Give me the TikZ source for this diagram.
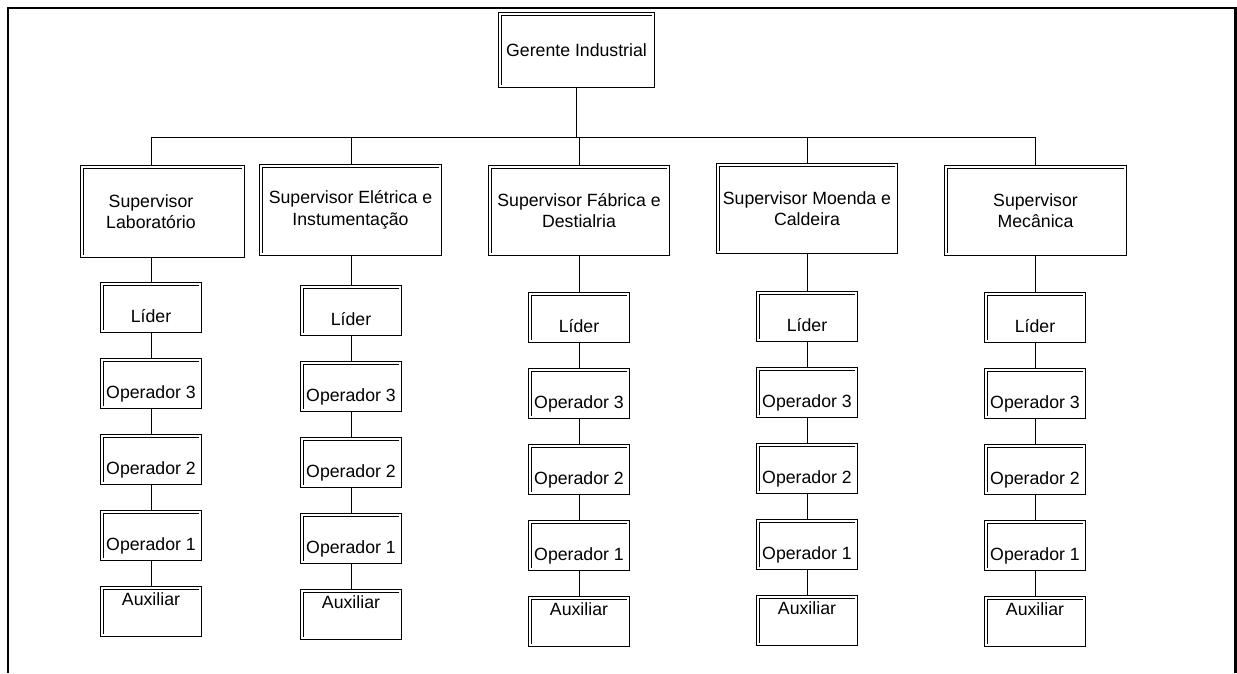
\documentclass[tikz,border=0pt]{standalone}
\usepackage{fontspec}
\setmainfont{Liberation Sans}
\usetikzlibrary{backgrounds}
\begin{document}
\begin{tikzpicture}[x=1pt,y=-1pt,
  txt/.style={font=\fontsize{17.7}{21.5}\selectfont},
  box/.style={txt, draw=black, line width=0.8pt, double=white, double distance=1.9pt, fill=white, inner sep=0pt},
  sup/.style={box, align=center},
  small/.style={box, minimum width=98.5pt, minimum height=47.5pt, text height=39pt, text depth=8.5pt},
  aux/.style={box, minimum width=98.5pt, minimum height=47.5pt, text height=18pt, text depth=29.5pt},
  conn/.style={draw=black, line width=0.9pt},
  frame/.style={draw=black, line width=2.4pt, line join=miter}]
\useasboundingbox (0,0) rectangle (1237,673);

\draw[frame] (7.8,673) -- (7.8,7.8) -- (1235.6,7.8) -- (1235.6,673);

\node[box, minimum width=153.5pt, minimum height=72.5pt] (g) at (576.5,50) {Gerente Industrial};

\node[sup, minimum width=161.5pt, minimum height=89.5pt] (s1) at (162.5,211.5) {};
\node[txt, align=center, inner sep=0pt] (s1t) at (151,211.5) {Supervisor\\Laboratório};
\node[sup, minimum width=179.5pt, minimum height=88.5pt] (s2) at (350.5,210) {Supervisor Elétrica e\\Instumentação};
\node[sup, minimum width=178.5pt, minimum height=87.5pt] (s3) at (579,210.5) {Supervisor Fábrica e\\Destialria};
\node[sup, minimum width=178.5pt, minimum height=87.5pt] (s4) at (807,208.5) {Supervisor Moenda e\\Caldeira};
\node[sup, minimum width=179.5pt, minimum height=87.5pt] (s5) at (1035.5,210.5) {Supervisor\\Mecânica};

\foreach \c/\x/\t in {1/151/282, 2/351/285, 3/579/292, 4/807/291, 5/1035/292} {
  \node[small] (l\c) at (\x,\t+25.5) {Líder};
  \node[small] (a\c) at (\x,\t+101.5) {Operador 3};
  \node[small] (b\c) at (\x,\t+177.5) {Operador 2};
  \node[small] (d\c) at (\x,\t+253.5) {Operador 1};
  \node[aux] (x\c) at (\x,\t+329.5) {Auxiliar};
}

\begin{scope}[on background layer]
\coordinate (bus) at (0,137);
\draw[conn] (g.south) -- (g.south |- bus);
\draw[conn] (l1 |- bus) -- (l5 |- bus);
\foreach \c in {1,...,5} {
  \draw[conn] (l\c |- bus) -- (l\c |- s\c.north);
  \draw[conn] (l\c |- s\c.south) -- (l\c.north);
  \draw[conn] (l\c.south) -- (a\c.north);
  \draw[conn] (a\c.south) -- (b\c.north);
  \draw[conn] (b\c.south) -- (d\c.north);
  \draw[conn] (d\c.south) -- (x\c.north);
}
\end{scope}
\end{tikzpicture}
\end{document}
